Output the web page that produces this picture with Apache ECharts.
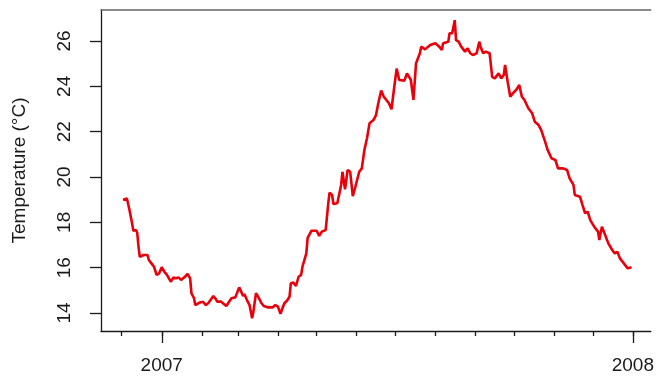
<!DOCTYPE html>
<html>
<head>
<meta charset="utf-8">
<script src="https://cdn.jsdelivr.net/npm/echarts@6/dist/echarts.min.js"></script>
<style>
  html, body { margin: 0; padding: 0; background: #fff; }
  #chart { width: 657px; height: 378px; }
</style>
</head>
<body>
<div id="chart"></div>
<script>
// Daily water temperature, Dec 2006 - Dec 2007.
// Days are counted from 1 January 2007.
const days = [
  -30, -27, -25, -23, -22, -20, -19, -18, -17, -14, -13, -11, -10, -8, -6, -4, -2,
  0, 2, 4, 5, 7, 9, 11, 13, 15, 18, 20, 22, 23, 25, 26, 29, 32, 34, 36, 40, 42, 43,
  46, 50, 54, 57, 60, 61, 63, 64, 66, 68, 70, 71, 73, 75, 77, 79, 82, 86, 88, 90,
  92, 93, 95, 97, 99, 100, 102, 104, 106, 108, 109, 112, 113, 116, 120, 122, 124,
  127, 129, 130, 132, 133, 136, 139, 140, 142, 144, 146, 148, 150, 153, 155, 157,
  159, 161, 164, 166, 168, 170, 172, 174, 176, 178, 180, 182, 184, 188, 190, 193,
  194, 195, 197, 198, 200, 201, 204, 208, 212, 215, 217, 218, 222, 223, 225, 227,
  228, 230, 232, 235, 237, 239, 241, 244, 246, 247, 249, 251, 254, 256, 258, 261,
  263, 265, 266, 268, 270, 272, 275, 277, 279, 281, 284, 287, 289, 292, 294, 297,
  299, 302, 305, 307, 311, 314, 316, 319, 320, 324, 326, 328, 330, 332, 335, 338,
  339, 341, 343, 346, 349, 351, 353, 355, 358, 361, 362, 364
];
const temps = [
  19.0, 19.05, 18.54, 17.96, 17.63, 17.66, 17.54, 16.92, 16.48, 16.56, 16.48, 16.56, 16.34, 16.19, 16.04, 15.68, 15.75,
  16.02, 15.82, 15.68, 15.63, 15.38, 15.57, 15.53, 15.57, 15.46, 15.60, 15.72, 15.53, 14.87, 14.65, 14.35, 14.45, 14.50, 14.35, 14.43, 14.75, 14.60, 14.50,
  14.50, 14.31, 14.65, 14.69, 15.13, 15.01, 14.75, 14.84, 14.57, 14.35, 13.77, 14.06, 14.87, 14.69, 14.45, 14.31, 14.25, 14.25, 14.35, 14.28,
  13.96, 14.13, 14.43, 14.54, 14.72, 15.31, 15.34, 15.19, 15.60, 15.68, 16.04, 16.63, 17.30, 17.63, 17.63, 17.40, 17.59,
  17.66, 18.84, 19.31, 19.21, 18.81, 18.84, 19.65, 20.23, 19.46, 20.31, 20.23, 19.16, 19.57, 20.23, 20.38, 21.19,
  21.71, 22.37, 22.51, 22.73, 23.32, 23.81, 23.54, 23.40, 23.25, 22.99, 23.91, 24.78, 24.28, 24.25, 24.57, 24.28,
  24.20, 23.40, 25.01, 25.16, 25.46, 25.75, 25.63, 25.82, 25.90, 25.75, 25.60, 25.90, 25.97, 26.34, 26.34, 26.92,
  26.04, 25.97, 25.75, 25.53, 25.68, 25.46, 25.38, 25.46, 25.97, 25.75, 25.46, 25.53, 25.46, 24.42, 24.35, 24.57,
  24.35, 24.50, 24.94, 24.20, 23.54, 23.69, 23.87, 24.06, 23.54, 23.40, 23.03, 22.81, 22.44, 22.29, 22.07, 21.56,
  21.19, 20.82, 20.75, 20.38, 20.38, 20.31, 19.94, 19.65, 19.21, 19.13, 18.76, 18.40, 18.47, 18.10, 17.81, 17.59,
  17.22, 17.81, 17.52, 17.07, 16.78, 16.63, 16.70, 16.41, 16.19, 15.97, 15.97, 16.02
];

// Axis ticks: month starts (short ticks), year starts (long ticks with labels)
const monthStarts = [
  '2006-12-01', '2007-01-01', '2007-02-01', '2007-03-01', '2007-04-01', '2007-05-01',
  '2007-06-01', '2007-07-01', '2007-08-01', '2007-09-01', '2007-10-01', '2007-11-01',
  '2007-12-01', '2008-01-01'
];
const yearStarts = ['2007-01-01', '2008-01-01'];
const yearLabels = ['2007', '2008'];
const tempTicks = [14, 16, 18, 20, 22, 24, 26];

const ORIGIN = Date.UTC(2007, 0, 1);
function dayOf(s) {
  const p = s.split('-').map(Number);
  return Math.round((Date.UTC(p[0], p[1] - 1, p[2]) - ORIGIN) / 86400000);
}
const monthDays = monthStarts.map(dayOf);
const yearDays = yearStarts.map(dayOf);

const X_MIN = -47.07, X_MAX = 378.9;
const Y_MIN = 13.206, Y_MAX = 27.367;
const FONT = '"Liberation Sans", Arial, Helvetica, sans-serif';
const INK = '#1a1a1a';

const chart = echarts.init(document.getElementById('chart'), null, { renderer: 'canvas' });
chart.setOption({
  animation: false,
  backgroundColor: '#fff',
  textStyle: { fontFamily: FONT },
  grid: { left: 101, right: 4, top: 10, bottom: 47, containLabel: false },
  xAxis: [
    {
      type: 'value', position: 'bottom', min: X_MIN, max: X_MAX,
      axisLine: { show: true, onZero: false, lineStyle: { color: INK, width: 1.3 } },
      axisTick: { show: true, length: 5, customValues: monthDays, lineStyle: { color: INK, width: 1.3 } },
      axisLabel: { show: false },
      splitLine: { show: false }
    },
    {
      type: 'value', position: 'bottom', min: X_MIN, max: X_MAX,
      axisLine: { show: false, onZero: false },
      axisTick: { show: true, length: 12, customValues: yearDays, lineStyle: { color: INK, width: 1.3 } },
      axisLabel: {
        show: true, customValues: yearDays, margin: 25,
        fontSize: 19, color: INK, fontFamily: FONT,
        formatter: function (v) {
          const i = yearDays.indexOf(Math.round(v));
          return i >= 0 ? yearLabels[i] : '';
        }
      },
      splitLine: { show: false }
    },
    {
      type: 'value', position: 'top', min: X_MIN, max: X_MAX,
      axisLine: { show: true, onZero: false, lineStyle: { color: '#666', width: 1.5 } },
      axisTick: { show: false },
      axisLabel: { show: false },
      splitLine: { show: false }
    }
  ],
  yAxis: {
    type: 'value', position: 'left', min: Y_MIN, max: Y_MAX,
    name: 'Temperature (\u00B0C)', nameLocation: 'middle', nameGap: 72,
    nameTextStyle: { fontSize: 19, color: INK, fontFamily: FONT },
    axisLine: { show: true, onZero: false, lineStyle: { color: INK, width: 1.3 } },
    axisTick: { show: true, length: 11, customValues: tempTicks, lineStyle: { color: INK, width: 1.3 } },
    axisLabel: {
      show: true, customValues: tempTicks, rotate: 90, margin: 27,
      fontSize: 19, color: INK, fontFamily: FONT
    },
    splitLine: { show: false }
  },
  series: [{
    type: 'line',
    xAxisIndex: 0,
    data: days.map((d, i) => [d, temps[i]]),
    showSymbol: false,
    lineStyle: { color: '#e8000b', width: 2.6 },
    clip: true
  }]
});
</script>
</body>
</html>
